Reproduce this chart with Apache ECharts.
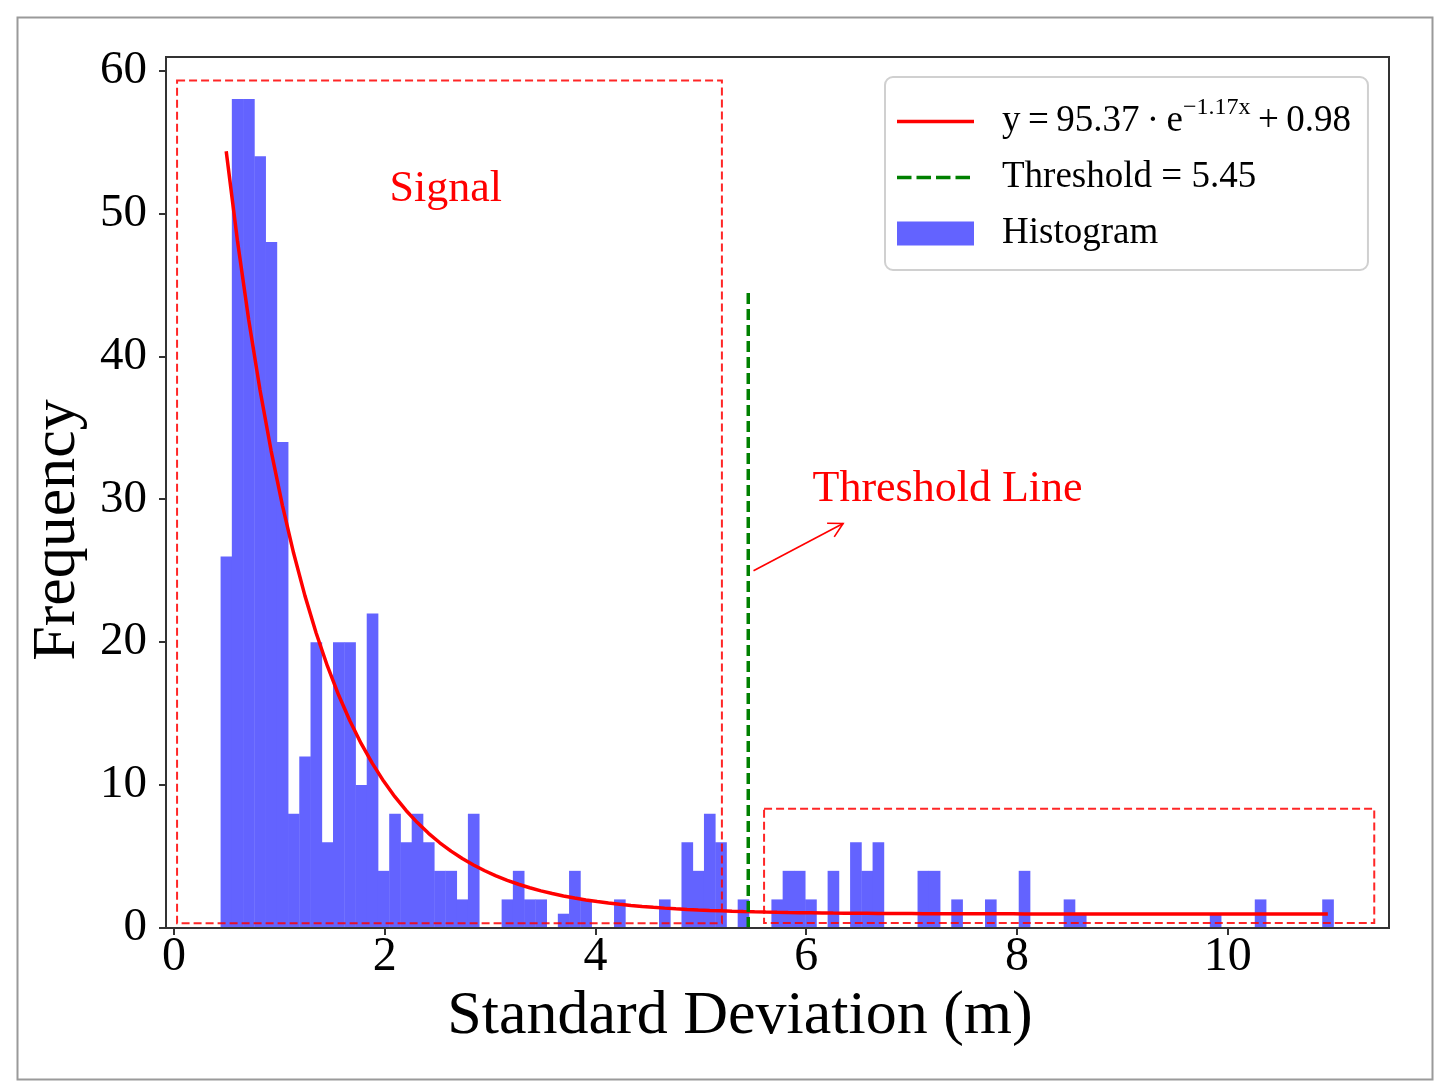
<!DOCTYPE html>
<html>
<head>
<meta charset="utf-8">
<script src="https://cdn.jsdelivr.net/npm/echarts@6/dist/echarts.min.js"></script>
<style>
html,body{margin:0;padding:0;background:#fff;}
#chart{width:1444px;height:1091px;}
</style>
</head>
<body>
<div id="chart"></div>
<script>
// ---------- data ----------
const binStart = 0.443;          // left edge of first histogram bin
const binEnd = 11.003;           // right edge of last histogram bin
const counts = [
  26, 58, 58, 54, 48, 34, 8, 12, 20, 6,
  20, 20, 10, 22, 4, 8, 6, 8, 6, 4,
  4, 2, 8, 0, 0, 2, 4, 2, 2, 0,
  1, 4, 2, 0, 0, 2, 0, 0, 0, 2,
  0, 6, 4, 8, 6, 0, 2, 0, 0, 2,
  4, 4, 2, 0, 4, 0, 6, 4, 6, 0,
  0, 0, 4, 4, 0, 2, 0, 0, 2, 0,
  0, 4, 0, 0, 0, 2, 1, 0, 0, 0,
  0, 0, 0, 0, 0, 0, 0, 0, 1, 0,
  0, 0, 2, 0, 0, 0, 0, 0, 2
];
const fitA = 95.37, fitK = 1.17, fitC = 0.98;   // fit parameters shown in the legend
const threshold = 5.45;
const thresholdTop = 44.6;
const xTicks = [0, 2, 4, 6, 8, 10];
const yTicks = [0, 10, 20, 30, 40, 50, 60];
const boxes = [
  [0.03, 0.33, 5.2, 59.3],      // "Signal" region
  [5.6, 0.35, 11.39, 8.35]      // noise region
];
const arrowFrom = [5.5, 25.0];
const arrowTo = [6.35, 28.3];
const notes = [
  {text: 'Signal', x: 2.58, y: 51.7, align: 'center'},
  {text: 'Threshold Line', x: 6.06, y: 30.7, align: 'left'}
];
const fitName = 'Fit';
const thrName = 'Threshold = 5.45';
const histName = 'Histogram';
const fitLabelParts = ['y\u2009=\u200995.37\u2009·\u2009e', '−1.17x', '\u2009+\u20090.98'];

// ---------- derived series data ----------
const binW = (binEnd - binStart) / counts.length;
const histData = counts.map((c, i) => [binStart + i * binW, binStart + (i + 1) * binW, c]);
const fitData = counts.map((c, i) => {
  const x = binStart + (i + 0.5) * binW;
  return [x, fitA * Math.exp(-fitK * x) + fitC];
});

const FONT = '"Liberation Serif","Times New Roman",serif';
const lineIcon = 'path://M0,0M77,24M0,10.25H77V13.75H0Z';
const dashIcon = 'path://M0,0M77,24M0,10.25H14.5V13.75H0Z M19.5,10.25H34V13.75H19.5Z M39,10.25H53.5V13.75H39Z M58.5,10.25H73V13.75H58.5Z';

const chart = echarts.init(document.getElementById('chart'));

chart.setOption({
  backgroundColor: '#fff',
  animation: false,
  graphic: [{
    type: 'rect', left: 15, top: 15, silent: true,
    shape: {width: 1415, height: 1062},
    style: {fill: 'none', stroke: '#9a9a9a', lineWidth: 2}
  }],
  grid: {
    left: 166, right: 55, top: 57, bottom: 163,
    show: true, borderColor: '#333', borderWidth: 2, backgroundColor: 'transparent'
  },
  xAxis: {
    type: 'value', min: -0.075, max: 11.53, z: 10,
    name: 'Standard Deviation (m)', nameLocation: 'middle', nameGap: 52,
    nameTextStyle: {fontFamily: FONT, fontSize: 62, color: '#000', padding: [0, 75, 0, 0]},
    axisLine: {show: true, onZero: false, lineStyle: {color: '#333', width: 2}},
    axisTick: {show: true, length: 7, lineStyle: {color: '#333', width: 2}, customValues: xTicks},
    axisLabel: {fontFamily: FONT, fontSize: 48, color: '#000', margin: 5, customValues: xTicks},
    splitLine: {show: false}
  },
  yAxis: {
    type: 'value', min: 0, max: 60.94, z: 10,
    name: 'Frequency', nameLocation: 'middle', nameGap: 76, nameRotate: 90,
    nameTextStyle: {fontFamily: FONT, fontSize: 62, color: '#000', padding: [0, 75, 0, 0]},
    axisLine: {show: true, onZero: false, lineStyle: {color: '#333', width: 2}},
    axisTick: {show: true, length: 7, lineStyle: {color: '#333', width: 2}, customValues: yTicks},
    axisLabel: {fontFamily: FONT, fontSize: 47, color: '#000', margin: 19, customValues: yTicks},
    splitLine: {show: false}
  },
  legend: {
    orient: 'vertical', left: 885, top: 77,
    padding: [19, 17, 18, 12],
    itemWidth: 77, itemHeight: 24, itemGap: 19,
    backgroundColor: '#fff', borderColor: '#d0d0d0', borderWidth: 2, borderRadius: 8,
    selectedMode: false,
    textStyle: {
      fontFamily: FONT, fontSize: 37, color: '#000', padding: [0, 0, 0, 23],
      rich: {
        b: {fontFamily: FONT, fontSize: 37, color: '#000', verticalAlign: 'bottom'},
        sup: {fontFamily: FONT, fontSize: 24, color: '#000', lineHeight: 24, padding: [0, 0, 20, 0], verticalAlign: 'bottom'}
      }
    },
    formatter: function (name) {
      if (name === fitName) {
        return '{b|' + fitLabelParts[0] + '}{sup|' + fitLabelParts[1] + '}{b|' + fitLabelParts[2] + '}';
      }
      return '{b|' + name + '}';
    },
    data: [
      {name: fitName, icon: lineIcon},
      {name: thrName, icon: dashIcon},
      {name: histName, icon: 'rect'}
    ]
  },
  series: [
    {
      name: histName, type: 'custom', z: 2,
      encode: {x: [0, 1], y: 2},
      itemStyle: {color: '#6363ff'},
      data: histData,
      renderItem: function (params, api) {
        const c = api.value(2);
        if (!c) return null;
        const p0 = api.coord([api.value(0), 0]);
        const p1 = api.coord([api.value(1), c]);
        return {
          type: 'rect',
          shape: {x: p0[0], y: p1[1], width: p1[0] - p0[0] + 0.4, height: p0[1] - p1[1]},
          style: {fill: '#6363ff'}
        };
      }
    },
    {
      name: fitName, type: 'line', z: 4, symbol: 'none', smooth: false,
      data: fitData,
      itemStyle: {color: '#ff0000'},
      lineStyle: {color: '#ff0000', width: 3.5}
    },
    {
      name: thrName, type: 'line', z: 4, symbol: 'none',
      data: [[threshold, 0], [threshold, thresholdTop]],
      itemStyle: {color: '#008000'},
      lineStyle: {color: '#008000', width: 3.5, type: [11, 5]}
    },
    {
      name: 'regions', type: 'custom', z: 5, silent: true,
      encode: {x: [0, 2], y: [1, 3]},
      data: boxes,
      renderItem: function (params, api) {
        const a = api.coord([api.value(0), api.value(1)]);
        const b = api.coord([api.value(2), api.value(3)]);
        return {
          type: 'rect',
          shape: {x: a[0], y: b[1], width: b[0] - a[0], height: a[1] - b[1]},
          style: {fill: 'none', stroke: 'rgba(255,0,0,0.85)', lineWidth: 2, lineDash: [8, 4]}
        };
      }
    },
    {
      name: 'arrow', type: 'custom', z: 6, silent: true,
      encode: {x: [0, 2], y: [1, 3]},
      data: [[arrowFrom[0], arrowFrom[1], arrowTo[0], arrowTo[1]]],
      renderItem: function (params, api) {
        const a = api.coord([api.value(0), api.value(1)]);
        const b = api.coord([api.value(2), api.value(3)]);
        const ang = Math.atan2(b[1] - a[1], b[0] - a[0]);
        const L = 16, spread = 0.5;
        const w1 = [b[0] - L * Math.cos(ang - spread), b[1] - L * Math.sin(ang - spread)];
        const w2 = [b[0] - L * Math.cos(ang + spread), b[1] - L * Math.sin(ang + spread)];
        return {
          type: 'group',
          children: [
            {type: 'line', shape: {x1: a[0], y1: a[1], x2: b[0], y2: b[1]},
             style: {stroke: '#ff0000', lineWidth: 1.6}},
            {type: 'polyline', shape: {points: [w1, b, w2]},
             style: {stroke: '#ff0000', lineWidth: 1.6, fill: 'none'}}
          ]
        };
      }
    },
    {
      name: 'notes', type: 'custom', z: 6, silent: true,
      encode: {x: 0, y: 1},
      data: notes.map(n => [n.x, n.y]),
      renderItem: function (params, api) {
        const n = notes[params.dataIndex];
        const p = api.coord([api.value(0), api.value(1)]);
        return {
          type: 'text', x: p[0], y: p[1],
          style: {text: n.text, fill: '#ff0000', font: '44px ' + FONT,
                  align: n.align, verticalAlign: 'middle'}
        };
      }
    }
  ]
});
</script>
</body>
</html>
